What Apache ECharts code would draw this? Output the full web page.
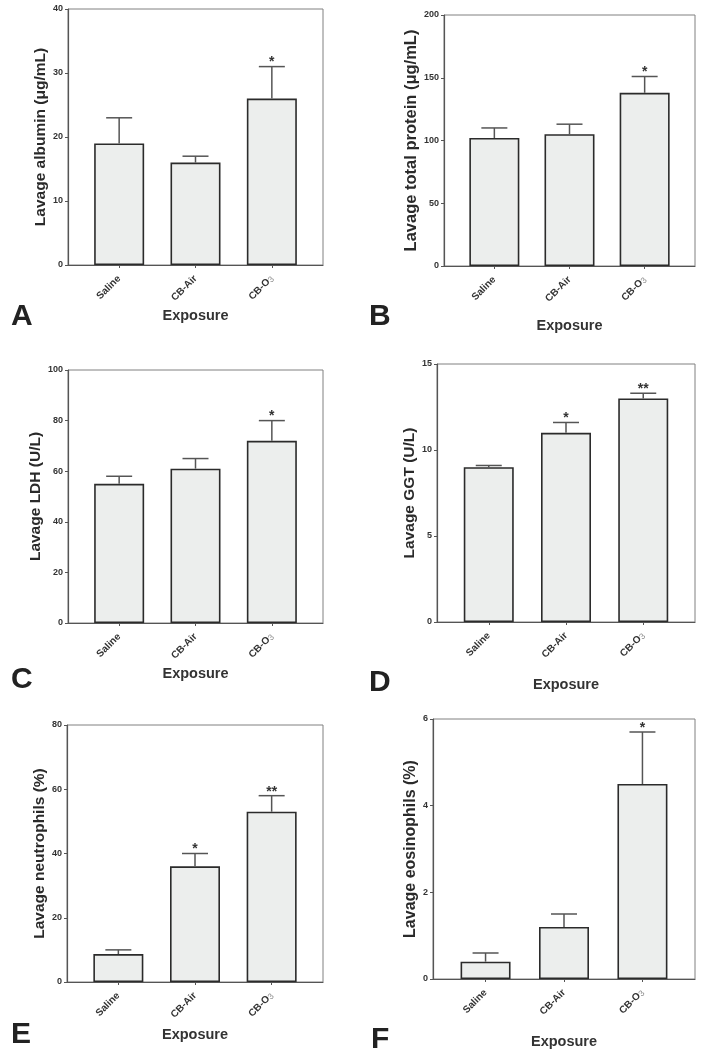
<!DOCTYPE html>
<html>
<head>
<meta charset="utf-8">
<script src="https://cdn.jsdelivr.net/npm/echarts@6/dist/echarts.min.js"></script>
<style>
  html, body { margin: 0; padding: 0; background: #fff; }
  #main { width: 704px; height: 1050px; }
</style>
</head>
<body>
<div id="main"></div>
<script>
// groups on the x axis
var categories = ['Saline', 'CB-Air', 'CB-O3'];

// A - albumin (ug/mL)
var albuminMean = [19, 16, 26];
var albuminSem = [4, 1, 5];
var albuminStars = ['', '', '*'];
var albuminTicks = [0, 10, 20, 30, 40];

// B - total protein (ug/mL)
var proteinMean = [102, 105, 138];
var proteinSem = [8, 8, 13];
var proteinStars = ['', '', '*'];
var proteinTicks = [0, 50, 100, 150, 200];

// C - LDH (U/L)
var ldhMean = [55, 61, 72];
var ldhSem = [3, 4, 8];
var ldhStars = ['', '', '*'];
var ldhTicks = [0, 20, 40, 60, 80, 100];

// D - GGT (U/L)
var ggtMean = [9, 11, 13];
var ggtSem = [0.1, 0.6, 0.3];
var ggtStars = ['', '*', '**'];
var ggtTicks = [0, 5, 10, 15];

// E - neutrophils (%)
var neutroMean = [8.7, 36, 53];
var neutroSem = [1.3, 4, 5];
var neutroStars = ['', '*', '**'];
var neutroTicks = [0, 20, 40, 60, 80];

// F - eosinophils (%)
var eosinoMean = [0.4, 1.2, 4.5];
var eosinoSem = [0.2, 0.3, 1.2];
var eosinoStars = ['', '', '*'];
var eosinoTicks = [0, 2, 4, 6];

var FONT = '"Liberation Sans", Arial, Helvetica, sans-serif';

// layout of each panel (plot frame in px)
var panels = [
  { letter: 'A', mean: albuminMean, sem: albuminSem, stars: albuminStars, ticks: albuminTicks,
    name: 'Lavage albumin (\u03bcg/mL)', rect: [68, 9, 255, 256], nameSize: 15.5, yGap: 18, xGap: 43, letterPos: [6, 297] },
  { letter: 'B', mean: proteinMean, sem: proteinSem, stars: proteinStars, ticks: proteinTicks,
    name: 'Lavage total protein (\u03bcg/mL)', rect: [444, 15, 251, 251], nameSize: 16.5, yGap: 22, xGap: 52, letterPos: [364, 297] },
  { letter: 'C', mean: ldhMean, sem: ldhSem, stars: ldhStars, ticks: ldhTicks,
    name: 'Lavage LDH (U/L)', rect: [68, 370, 255, 253], nameSize: 15.5, yGap: 21, xGap: 43, letterPos: [6, 660] },
  { letter: 'D', mean: ggtMean, sem: ggtSem, stars: ggtStars, ticks: ggtTicks,
    name: 'Lavage GGT (U/L)', rect: [437, 364, 258, 258], nameSize: 15.5, yGap: 18, xGap: 55, letterPos: [364, 663] },
  { letter: 'E', mean: neutroMean, sem: neutroSem, stars: neutroStars, ticks: neutroTicks,
    name: 'Lavage neutrophils (%)', rect: [67, 725, 256, 257], nameSize: 15.5, yGap: 19, xGap: 45, letterPos: [6, 1015] },
  { letter: 'F', mean: eosinoMean, sem: eosinoSem, stars: eosinoStars, ticks: eosinoTicks,
    name: 'Lavage eosinophils (%)', rect: [433, 719, 262, 262], nameSize: 16, yGap: 14, xGap: 55, letterPos: [366, 1020] }
];

var myChart = echarts.init(document.getElementById('main'));

var option = {
  animation: false,
  backgroundColor: '#fff',
  textStyle: { fontFamily: FONT },
  title: [],
  grid: [],
  xAxis: [],
  yAxis: [],
  series: []
};

panels.forEach(function (p, i) {
  var t = p.ticks;
  option.title.push({
    text: p.letter, left: p.letterPos[0], top: p.letterPos[1],
    textStyle: { fontSize: 30, fontWeight: 'bold', color: '#222', fontFamily: FONT }
  });
  option.grid.push({
    left: p.rect[0], top: p.rect[1], width: p.rect[2], height: p.rect[3],
    containLabel: false, show: true, borderColor: '#808080', borderWidth: 1, backgroundColor: 'transparent'
  });
  option.xAxis.push({
    gridIndex: i, type: 'value', min: -0.67, max: 2.67,
    name: 'Exposure', nameLocation: 'middle', nameGap: p.xGap,
    nameTextStyle: { fontSize: 14.5, fontWeight: 'bold', color: '#333' },
    axisLine: { show: true, onZero: false, lineStyle: { color: '#555', width: 1.2 } },
    axisTick: { show: true, customValues: [0, 1, 2], length: 3, lineStyle: { color: '#555' } },
    splitLine: { show: false },
    axisLabel: {
      customValues: [0, 1, 2], rotate: 45, margin: 12,
      fontSize: 10, fontWeight: 'bold', color: '#333',
      formatter: function (v) {
        var c = categories[Math.round(v)];
        if (c === 'CB-O3') return '{m|CB-O}{s|3}';
        return '{m|' + c + '}';
      },
      rich: {
        m: { fontSize: 10, fontWeight: 'bold', color: '#333', fontFamily: FONT },
        s: { fontSize: 8.5, fontWeight: 'normal', color: '#888', fontFamily: FONT, padding: [3, 0, 0, 0] }
      }
    }
  });
  option.yAxis.push({
    gridIndex: i, type: 'value', min: t[0], max: t[t.length - 1], interval: t[1] - t[0],
    name: p.name, nameLocation: 'middle', nameRotate: 90, nameGap: p.yGap,
    nameTextStyle: { fontSize: p.nameSize, fontWeight: 'bold', color: '#2a2a2a' },
    axisLine: { show: true, onZero: false, lineStyle: { color: '#555', width: 1.2 } },
    axisTick: { show: true, length: 3, lineStyle: { color: '#555' } },
    splitLine: { show: false },
    axisLabel: { fontSize: 9, fontWeight: 'bold', color: '#333', margin: 5 }
  });
  var barData = p.mean.map(function (m, k) { return [k, m]; });
  var errData = p.mean.map(function (m, k) { return [k, m, p.sem[k]]; });
  option.series.push({
    type: 'bar', xAxisIndex: i, yAxisIndex: i, barWidth: 50,
    data: barData,
    itemStyle: { color: '#eceeed', borderColor: '#2b2b2b', borderWidth: 1.6 }
  });
  option.series.push({
    type: 'custom', xAxisIndex: i, yAxisIndex: i, z: 3,
    data: errData,
    renderItem: function (params, api) {
      var x = api.value(0), y = api.value(1), e = api.value(2);
      var star = p.stars[params.dataIndex];
      var p0 = api.coord([x, y]);
      var p1 = api.coord([x, y + e]);
      var children = [
        { type: 'line', shape: { x1: p0[0], y1: p0[1], x2: p1[0], y2: p1[1] },
          style: { stroke: '#555', lineWidth: 1.5 } },
        { type: 'line', shape: { x1: p1[0] - 13, y1: p1[1], x2: p1[0] + 13, y2: p1[1] },
          style: { stroke: '#555', lineWidth: 1.5 } }
      ];
      if (star) {
        children.push({
          type: 'text', x: p1[0], y: p1[1] - 4,
          style: { text: star, fill: '#333', fontSize: 14, fontWeight: 'bold', fontFamily: FONT,
                   align: 'center', verticalAlign: 'middle' }
        });
      }
      return { type: 'group', children: children };
    }
  });
});

myChart.setOption(option);
</script>
</body>
</html>
